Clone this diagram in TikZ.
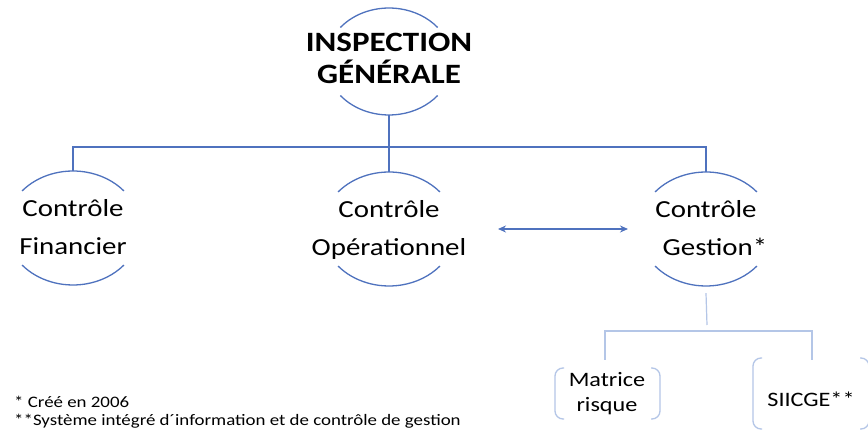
\documentclass[tikz,border=0pt]{standalone}
\usepackage{fontspec}
\setmainfont{Carlito}[FakeStretch=1.18]
\usetikzlibrary{shapes.geometric,arrows.meta}
\definecolor{dk}{HTML}{4F72BE}
\definecolor{lt}{HTML}{B4C6E7}
\tikzset{
  ring/.style={ellipse, minimum width=134pt, minimum height=114pt, inner sep=0pt,
    font=\fontsize{24.5}{38}\selectfont},
  conn/.style={draw=dk, line width=1.2pt},
  lconn/.style={draw=lt, line width=1.2pt},
  arcl/.style={draw=dk, line width=1.3pt},
  brk/.style={draw=lt, line width=1.3pt, rounded corners=8pt},
  leaf/.style={align=center, inner sep=0pt, font=\fontsize{20.5}{25}\selectfont},
  note/.style={anchor=base west, inner sep=0pt, font=\fontsize{16}{20}\selectfont},
}
\newcommand{\rtext}[1]{\makebox[60pt]{\begin{tabular}{@{}c@{}}#1\end{tabular}}}
\newcommand{\ringarcs}[4]{% name, xr, yr, angle
  \draw[arcl] ([shift={(180-#4:#2pt and #3pt)}]#1.center) arc[start angle=180-#4, end angle=#4, x radius=#2pt, y radius=#3pt];
  \draw[arcl] ([shift={(180+#4:#2pt and #3pt)}]#1.center) arc[start angle=180+#4, end angle=360-#4, x radius=#2pt, y radius=#3pt];
}
\newcommand{\brackets}[4]{% x1,y1,x2,y2 (y1 top)
  \draw[brk] (#1+9,#2) -- (#1,#2) -- (#1,#4) -- (#1+9,#4);
  \draw[brk] (#3-9,#2) -- (#3,#2) -- (#3,#4) -- (#3-9,#4);
}
\begin{document}
\begin{tikzpicture}[x=1pt,y=1pt]
\useasboundingbox (0,0) rectangle (868,-430);
\fill[white] (0,0) rectangle (868,-430);

\node[ring, minimum width=126pt, minimum height=107pt, font=\bfseries\fontsize{28}{30}\selectfont] (top) at (389,-61.5) {\rtext{INSPECTION\\GÉNÉRALE}};
\node[ring] (fin) at (73,-228) {\rtext{Contrôle\\Financier}};
\node[ring] (ops) at (389,-229) {\rtext{Contrôle\\Opérationnel}};
\node[ring] (ges) at (706,-229) {\rtext{Contrôle\\\hspace*{18pt}Gestion*}};

\ringarcs{top}{63}{53.5}{39.5}
\ringarcs{fin}{67}{57}{40.5}
\ringarcs{ops}{67}{57}{40.5}
\ringarcs{ges}{67}{57}{40.5}

\coordinate (bus) at (389,-147);
\draw[conn] (top.south) -- (bus);
\draw[conn] (fin.north) |- (bus) -| (ges.north);
\draw[conn] (ops.north) -- (ops.north |- bus);

\coordinate (aL) at (498,-229);
\coordinate (aR) at (628,-229);
\draw[draw=dk, line width=1.6pt, {Stealth[length=8pt,width=7pt]}-{Stealth[length=8pt,width=7pt]}] (aL) -- (aR);

\node[leaf] (mat) at (607,-394) {Matrice\\risque};
\node[leaf] (sii) at (811,-399) {SIICGE**};
\brackets{555}{-368}{660}{-419}
\brackets{753}{-358}{869}{-429}

\coordinate (lbus) at (707,-331);
\coordinate (lend) at (707,-325);
\coordinate (mtop) at (605,-360);
\coordinate (stop) at (812,-360);
\draw[lconn] ([yshift=-7pt]ges.south) -- (lend);
\draw[lconn] (mtop) |- (lbus) -| (stop);

\node[note] (n1) at (14,-407) {* Créé en 2006};
\node[note] (n2) at (14,-425) {**Système intégré d´information et de contrôle de gestion};
\end{tikzpicture}
\end{document}
